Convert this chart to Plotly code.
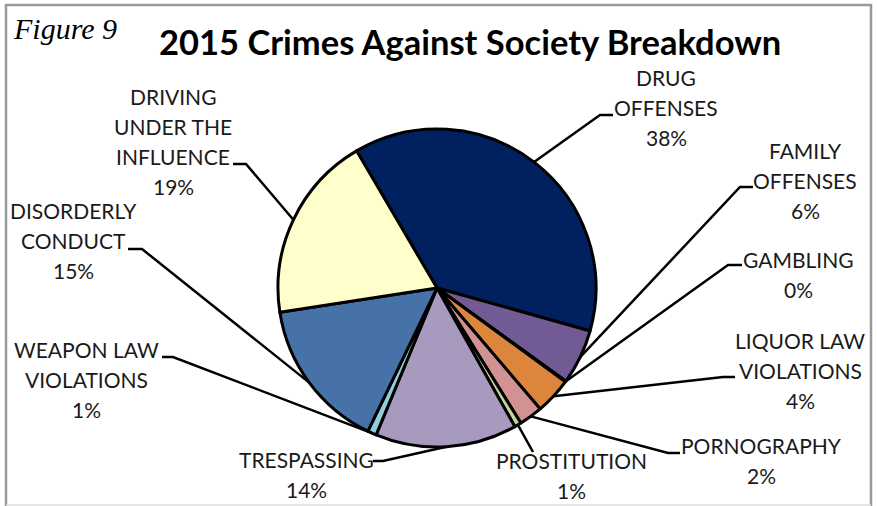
import math
import plotly.graph_objects as go

# --- data -------------------------------------------------------------
categories = [
    "DRUG\nOFFENSES",
    "FAMILY\nOFFENSES",
    "GAMBLING",
    "LIQUOR LAW\nVIOLATIONS",
    "PORNOGRAPHY",
    "PROSTITUTION",
    "TRESPASSING",
    "WEAPON LAW\nVIOLATIONS",
    "DISORDERLY\nCONDUCT",
    "DRIVING\nUNDER THE\nINFLUENCE",
]
shares = [37.8, 5.6, 0.1, 3.7, 2.4, 0.7, 14.4, 0.9, 15.4, 19.0]
colors = ["#002060", "#725A95", "#9BBB59", "#DC853D", "#D39292",
          "#C2D69A", "#A899BF", "#92CDDC", "#4672A8", "#FFFFCC"]

# --- layout constants (pixels) ----------------------------------------
W, H = 877, 506
PIE_CX, PIE_CY, PIE_R = 437, 288, 159
START_ANGLE = -30.4  # clockwise from 12 o'clock

# label block: centre x, centre y of first line
label_pos = [
    (666, 77), (805, 150.5), (798, 259), (800, 340.5), (761, 445.5),
    (571, 460.5), (306, 459.5), (86, 349.5), (73, 210.5), (173, 96.5),
]
# leader stub: x start, x end, y (the line then runs to the slice edge)
stubs = [
    (613, 600, 115), (753, 740, 187), (742, 728, 265), (735, 723, 377),
    (680, 668, 453), (533, 533, 452), (373, 383, 461), (162, 173, 357),
    (128, 142, 249), (233, 246, 164),
]
LINE_GAP = 30
FONT = "Lato"


def px(x):
    return x / W


def py(y):
    return 1 - y / H


fig = go.Figure(go.Pie(
    labels=[c.replace("\n", " ") for c in categories],
    values=shares,
    sort=False,
    direction="clockwise",
    rotation=START_ANGLE,
    marker=dict(colors=colors, line=dict(color="black", width=3)),
    textinfo="none",
    hoverinfo="skip",
    domain=dict(x=[px(PIE_CX - PIE_R), px(PIE_CX + PIE_R)],
                y=[py(PIE_CY + PIE_R), py(PIE_CY - PIE_R)]),
    showlegend=False,
))

total = sum(shares)
annotations = []
shapes = []
cum = 0.0
for cat, v, (lx, ly), (sx0, sx1, sy) in zip(categories, shares, label_pos, stubs):
    mid = math.radians(START_ANGLE + 360 * (cum + v / 2) / total)
    cum += v
    ex = PIE_CX + PIE_R * math.sin(mid)
    ey = PIE_CY - PIE_R * math.cos(mid)
    shapes.append(dict(
        type="path", xref="paper", yref="paper",
        path=f"M {px(sx0)} {py(sy)} L {px(sx1)} {py(sy)} L {px(ex)} {py(ey)}",
        line=dict(color="black", width=2.5),
    ))
    lines = cat.split("\n") + [f"{round(v / total * 100):d}%"]
    for i, t in enumerate(lines):
        annotations.append(dict(
            text=t, x=px(lx), y=py(ly + i * LINE_GAP),
            xref="paper", yref="paper", xanchor="center", yanchor="middle",
            showarrow=False, font=dict(family=FONT, size=21, color="#1a1a1a"),
        ))

# title and figure number
annotations.append(dict(
    text="<b>2015 Crimes Against Society Breakdown</b>",
    x=px(470), y=py(42), xref="paper", yref="paper",
    xanchor="center", yanchor="middle", showarrow=False,
    font=dict(family=FONT, size=34.5, color="black"),
))
annotations.append(dict(
    text="<i>Figure 9</i>",
    x=px(11), y=py(28), xref="paper", yref="paper",
    xanchor="left", yanchor="middle", showarrow=False,
    font=dict(family="Liberation Serif", size=30, color="black"),
))

# frame
shapes.append(dict(type="path", xref="paper", yref="paper",
                   path=f"M {px(6)} {py(507)} L {px(6)} {py(5)} L {px(871)} {py(5)} L {px(871)} {py(507)}",
                   line=dict(color="#999999", width=2.5)))
shapes.append(dict(type="line", xref="paper", yref="paper",
                   x0=px(6), x1=px(871), y0=py(505), y1=py(505),
                   line=dict(color="#dddddd", width=1.5)))

fig.update_layout(
    width=W, height=H,
    margin=dict(l=0, r=0, t=0, b=0),
    paper_bgcolor="white", plot_bgcolor="white",
    annotations=annotations, shapes=shapes,
)

fig.write_html("out.html")
